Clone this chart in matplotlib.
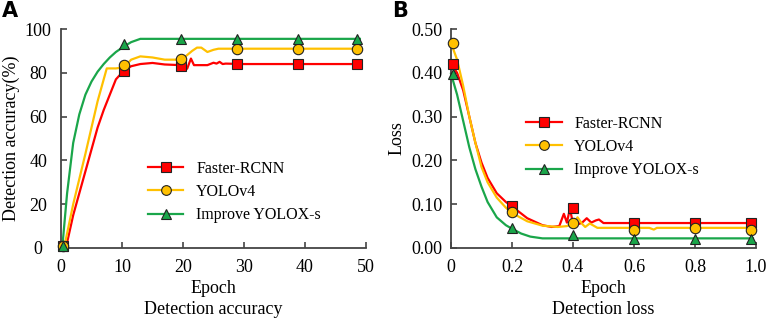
import matplotlib
matplotlib.use('Agg')
from matplotlib import pyplot as plt

# ---- panel A : detection accuracy ----
acc_mark_x = [0.3, 10.3, 19.6, 28.9, 38.8, 48.6]
acc_frcnn_mark = [1, 81, 83, 84, 84, 84]
acc_yolo_mark = [1, 83.5, 86.5, 91, 91, 91]
acc_imp_mark = [1, 93, 95.5, 95.5, 95.5, 95.5]

acc_frcnn_x = [0.8, 2, 4, 6, 7, 8, 9, 10.3, 11.5, 13, 15, 17, 19.6, 20.3, 20.7, 21.3, 21.8, 22.5, 24, 25, 25.5, 26, 26.5, 27, 30, 49]
acc_frcnn_y = [0, 15, 35, 55, 63, 70, 77, 81, 83, 84, 84.5, 83.8, 83.5, 81, 82, 86.5, 83.5, 83.5, 83.5, 84.6, 84.2, 85, 84, 84.2, 84, 84]
acc_yolo_x = [0.5, 2, 4, 6, 7.5, 9, 10.3, 11.5, 13, 15, 17, 19, 20.2, 21.5, 22.3, 23, 24, 25, 25.8, 27, 49]
acc_yolo_y = [0, 20, 43, 67, 82, 82, 82.5, 86, 87.5, 87, 86, 86, 87, 90, 91.5, 91.5, 89.5, 90.5, 91, 91, 91]
acc_imp_x = [0.2, 1, 2, 3, 4, 5, 6, 7, 8, 9, 10.3, 11.5, 13, 20, 49]
acc_imp_y = [0, 25, 48, 61, 70, 76, 80.5, 84, 87, 89.5, 92, 94, 95.5, 95.5, 95.5]

# ---- panel B : detection loss ----
loss_mark_x = [0.005, 0.2, 0.4, 0.6, 0.8, 0.985]
loss_frcnn_mark = [0.421, 0.097, 0.091, 0.057, 0.057, 0.057]
loss_yolo_mark = [0.468, 0.082, 0.056, 0.040, 0.046, 0.040]
loss_imp_mark = [0.398, 0.046, 0.030, 0.021, 0.021, 0.021]

loss_frcnn_x = [0, 0.02, 0.04, 0.06, 0.08, 0.1, 0.12, 0.15, 0.18, 0.2, 0.25, 0.3, 0.33, 0.355, 0.37, 0.38, 0.39, 0.4, 0.41, 0.42, 0.43, 0.445, 0.46, 0.475, 0.485, 0.5, 0.99]
loss_frcnn_y = [0.421, 0.40, 0.36, 0.30, 0.24, 0.195, 0.16, 0.125, 0.105, 0.095, 0.068, 0.052, 0.048, 0.05, 0.078, 0.058, 0.09, 0.055, 0.063, 0.055, 0.058, 0.068, 0.058, 0.063, 0.065, 0.057, 0.057]
loss_yolo_x = [0, 0.02, 0.04, 0.06, 0.08, 0.1, 0.12, 0.15, 0.18, 0.2, 0.25, 0.3, 0.35, 0.38, 0.4, 0.415, 0.43, 0.44, 0.455, 0.47, 0.48, 0.65, 0.665, 0.675, 0.99]
loss_yolo_y = [0.468, 0.43, 0.37, 0.30, 0.24, 0.185, 0.15, 0.115, 0.092, 0.08, 0.061, 0.051, 0.048, 0.05, 0.056, 0.07, 0.055, 0.048, 0.056, 0.05, 0.046, 0.046, 0.042, 0.046, 0.046]
loss_imp_x = [0, 0.02, 0.04, 0.06, 0.08, 0.1, 0.12, 0.15, 0.18, 0.2, 0.23, 0.26, 0.3, 0.99]
loss_imp_y = [0.398, 0.35, 0.29, 0.23, 0.18, 0.14, 0.105, 0.07, 0.052, 0.044, 0.033, 0.026, 0.022, 0.022]

red = '#ff0000'
yellow = '#ffc000'
green = '#1aa64a'

plt.rcParams['font.family'] = 'Liberation Serif'
plt.rcParams['font.size'] = 12

fig = plt.figure(figsize=(7.75, 3.2), dpi=100)
axA = fig.add_axes([61/775, 1-248/320, 305/775, 219/320])
axB = fig.add_axes([451/775, 1-248/320, 305/775, 219/320])


def styled(ax, ypad):
    for s in ['top', 'right']:
        ax.spines[s].set_visible(False)
    for s in ['left', 'bottom']:
        ax.spines[s].set_color('#444444')
        ax.spines[s].set_linewidth(1.3)
    ax.tick_params(axis='y', direction='in', length=4, color='#444444', width=1.2, pad=ypad, labelsize=13)
    ax.tick_params(axis='x', direction='in', length=4, color='#444444', width=1.2, pad=8, labelsize=13)


def series(ax, x, y, mx, my, color, marker, ms, label):
    ax.plot(x, y, color=color, lw=1.6, clip_on=False)
    ax.plot(mx, my, ls='none', marker=marker, ms=ms, mfc=color, mec='#222222', mew=0.8, clip_on=False, zorder=5)
    ax.plot([], [], color=color, lw=1.6, marker=marker, ms=ms - 0.5, mfc=color, mec='#222222', mew=0.8, label=label)


series(axA, acc_frcnn_x, acc_frcnn_y, acc_mark_x, acc_frcnn_mark, red, 's', 7.5, 'Faster-RCNN')
series(axA, acc_yolo_x, acc_yolo_y, acc_mark_x, acc_yolo_mark, yellow, 'o', 7.5, 'YOLOv4')
series(axA, acc_imp_x, acc_imp_y, acc_mark_x, acc_imp_mark, green, '^', 7.5, 'Improve YOLOX-s')
styled(axA, 16.5)
axA.set_xlim(0, 50)
axA.set_ylim(0, 100)
axA.set_xticks([0, 10, 20, 30, 40, 50])
axA.set_yticks([0, 20, 40, 60, 80, 100])
for t in axA.get_yticklabels():
    t.set_horizontalalignment('center')
axA.set_ylabel('Detection accuracy(%)', fontsize=13, labelpad=3)
axA.set_xlabel('Epoch\nDetection accuracy', fontsize=13, linespacing=1.3, labelpad=3)
axA.legend(loc='center left', bbox_to_anchor=(0.239, 0.256), frameon=False, fontsize=11.5,
           handlelength=2.2, labelspacing=0.45, handletextpad=0.8)

series(axB, loss_frcnn_x, loss_frcnn_y, loss_mark_x, loss_frcnn_mark, red, 's', 7.5, 'Faster-RCNN')
series(axB, loss_yolo_x, loss_yolo_y, loss_mark_x, loss_yolo_mark, yellow, 'o', 7.5, 'YOLOv4')
series(axB, loss_imp_x, loss_imp_y, loss_mark_x, loss_imp_mark, green, '^', 7.5, 'Improve YOLOX-s')
styled(axB, 6)
axB.set_xlim(0, 1.0)
axB.set_ylim(0, 0.5)
axB.set_xticks([0, 0.2, 0.4, 0.6, 0.8, 1.0])
axB.set_xticklabels(['0', '0.2', '0.4', '0.6', '0.8', '1.0'])
axB.set_yticks([0, 0.1, 0.2, 0.3, 0.4, 0.5])
axB.set_yticklabels(['0.00', '0.10', '0.20', '0.30', '0.40', '0.50'])
axB.set_ylabel('Loss', fontsize=13, labelpad=4)
axB.set_xlabel('Epoch\nDetection loss', fontsize=13, linespacing=1.3, labelpad=3)
axB.legend(loc='center left', bbox_to_anchor=(0.2, 0.461), frameon=False, fontsize=11.5,
           handlelength=2.2, labelspacing=0.45, handletextpad=0.8)

fig.text(2/775, 1-1/320, 'A', fontsize=15, fontweight='bold', family='DejaVu Sans', va='top')
fig.text(392/775, 1-1/320, 'B', fontsize=15, fontweight='bold', family='DejaVu Sans', va='top')

fig.savefig('out.png', dpi=100)
